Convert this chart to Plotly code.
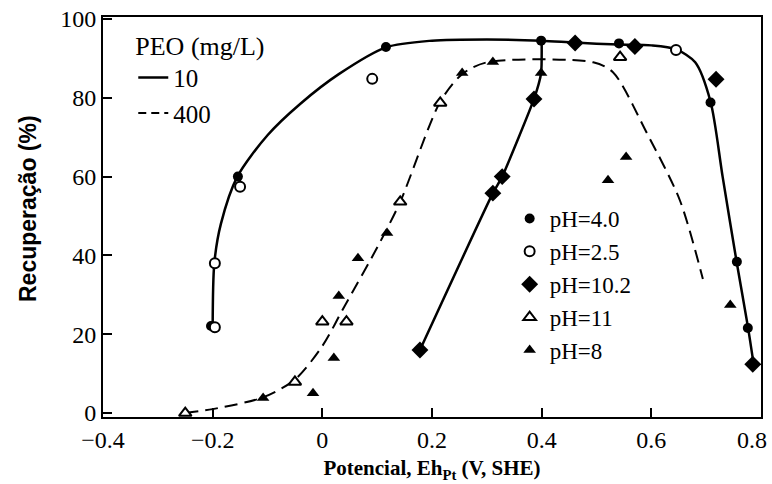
import plotly.graph_objects as go

# ---- data ----
ph40_x = [-0.203, -0.154, 0.116, 0.399, 0.541, 0.708, 0.756, 0.776]
ph40_y = [22.1, 60.0, 92.9, 94.5, 93.8, 78.8, 38.4, 21.6]

ph25_x = [-0.196, -0.196, -0.150, 0.091, 0.645]
ph25_y = [21.8, 38.0, 57.4, 84.8, 92.1]

ph102_x = [0.178, 0.311, 0.328, 0.386, 0.461, 0.570, 0.718, 0.785]
ph102_y = [16.0, 55.8, 60.0, 79.7, 93.9, 93.0, 84.7, 12.4]

ph11_x = [-0.250, -0.050, 0.000, 0.044, 0.142, 0.215, 0.543]
ph11_y = [0.0, 7.9, 23.2, 23.2, 53.6, 78.7, 90.3]

ph8_x = [-0.108, -0.017, 0.021, 0.030, 0.065, 0.118, 0.255, 0.311, 0.399, 0.521, 0.554, 0.744]
ph8_y = [3.8, 5.0, 14.0, 29.7, 39.3, 45.7, 86.3, 89.1, 86.3, 59.1, 65.0, 27.4]

# fitted curves drawn in the reference
curve10a_x = [-0.200, -0.197, -0.185, -0.155, -0.100, -0.040, 0.030, 0.116, 0.200, 0.300,
              0.400, 0.460, 0.540, 0.600, 0.645, 0.680, 0.708, 0.730, 0.756, 0.776, 0.787]
curve10a_y = [22.0, 38.0, 48.0, 60.0, 70.5, 78.5, 86.0, 92.8, 94.5, 94.8,
              94.5, 94.0, 93.5, 93.3, 92.3, 89.0, 79.0, 60.0, 38.0, 22.0, 12.0]

curve10b_x = [0.178, 0.311, 0.328, 0.386, 0.399, 0.400]
curve10b_y = [16.0, 55.8, 60.0, 79.7, 86.3, 94.5]

curve400_x = [-0.250, -0.200, -0.108, -0.050, 0.000, 0.040, 0.100, 0.142, 0.215, 0.255,
              0.300, 0.494, 0.530, 0.592, 0.652, 0.694]
curve400_y = [0.0, 1.0, 4.0, 8.5, 17.0, 27.0, 42.0, 53.6, 79.0, 86.0,
              89.0, 89.0, 86.5, 71.0, 54.0, 34.0]

x_ticks = [-0.4, -0.2, 0, 0.2, 0.4, 0.6, 0.8]
x_tick_labels = ["\u22120.4", "\u22120.2", "0", "0.2", "0.4", "0.6", "0.8"]
y_ticks = [0, 20, 40, 60, 80, 100]

SERIF = "Liberation Serif"
SANS = "Liberation Sans"

# last x label is nudged left so it stays inside the page, as in the reference
x_tick_text = x_tick_labels[:-1] + [x_tick_labels[-1] + "&nbsp;&nbsp;&nbsp;"]

fig = go.Figure()

# curves
fig.add_trace(go.Scatter(x=curve10a_x, y=curve10a_y, mode="lines", line=dict(color="black", width=2.5, shape="spline", smoothing=0.8),
                         showlegend=False, hoverinfo="skip"))
fig.add_trace(go.Scatter(x=curve10b_x, y=curve10b_y, mode="lines", line=dict(color="black", width=2.5, shape="spline", smoothing=0.5),
                         showlegend=False, hoverinfo="skip"))
fig.add_trace(go.Scatter(x=curve400_x, y=curve400_y, mode="lines", line=dict(color="black", width=2, dash="13px,7px", shape="spline", smoothing=0.8),
                         showlegend=False, hoverinfo="skip"))

# legend for line styles
fig.add_trace(go.Scatter(x=[None], y=[None], mode="lines", name="10", line=dict(color="black", width=2.5),
                         legend="legend", legendgroup="a"))
fig.add_trace(go.Scatter(x=[None], y=[None], mode="lines", name="400", line=dict(color="black", width=2, dash="8px,5px"),
                         legend="legend", legendgroup="b"))

# markers
fig.add_trace(go.Scatter(x=ph40_x, y=ph40_y, mode="markers", name="pH=4.0",
                         marker=dict(symbol="circle", size=10, color="black"), legend="legend2", legendgroup="c"))
fig.add_trace(go.Scatter(x=ph25_x, y=ph25_y, mode="markers", name="pH=2.5",
                         marker=dict(symbol="circle", size=10, color="white", line=dict(color="black", width=2)),
                         legend="legend2", legendgroup="d"))
fig.add_trace(go.Scatter(x=ph102_x, y=ph102_y, mode="markers", name="pH=10.2",
                         marker=dict(symbol="diamond", size=13, color="black"), legend="legend2", legendgroup="e"))
fig.add_trace(go.Scatter(x=ph11_x, y=ph11_y, mode="markers", name="pH=11",
                         marker=dict(symbol="triangle-up", size=11, color="white", line=dict(color="black", width=2)),
                         legend="legend2", legendgroup="f"))
fig.add_trace(go.Scatter(x=ph8_x, y=ph8_y, mode="markers", name="pH=8",
                         marker=dict(symbol="triangle-up", size=11, color="black"), legend="legend2", legendgroup="g"))

fig.update_layout(
    width=772, height=484,
    margin=dict(l=103, r=11, t=17, b=67, autoexpand=False),
    paper_bgcolor="white", plot_bgcolor="white",
    font=dict(family=SERIF, color="black", size=24),
    legend=dict(x=0.046, y=0.99, xanchor="left", yanchor="top", bgcolor="rgba(0,0,0,0)",
                title=dict(text="PEO (mg/L)", font=dict(family=SERIF, size=26)),
                font=dict(family=SERIF, size=25), tracegroupgap=0, itemwidth=30),
    legend2=dict(x=0.618, y=0.55, xanchor="left", yanchor="top", bgcolor="rgba(0,0,0,0)",
                 font=dict(family=SERIF, size=23), tracegroupgap=0, itemwidth=30),
    xaxis=dict(range=[-0.4, 0.8], tickvals=x_ticks, ticktext=x_tick_text, ticks="inside", ticklen=9, tickwidth=2, tickcolor="black",
               showline=True, linecolor="black", linewidth=2, mirror=True, showgrid=False, zeroline=False,
               automargin=False, ticklabeloverflow="allow", tickfont=dict(family=SERIF, size=24),
               title=dict(text="<b>Potencial, Eh<sub>Pt</sub> (V, SHE)</b>", font=dict(family=SERIF, size=21), standoff=9)),
    yaxis=dict(range=[-1, 100.5], tickvals=y_ticks, ticks="inside", ticklen=9, tickwidth=2, tickcolor="black",
               showline=True, linecolor="black", linewidth=2, mirror=True, showgrid=False, zeroline=False,
               automargin=False, ticklabeloverflow="allow", tickfont=dict(family=SERIF, size=24)),
    annotations=[dict(text="<b>Recuperação (%)</b>", textangle=-90, xref="paper", yref="paper",
                      x=0, y=0.52, xanchor="center", yanchor="middle", xshift=-75, showarrow=False,
                      font=dict(family=SANS, size=23))],
)

fig.write_html("out.html", config={"displayModeBar": False},
               post_script="document.body.style.margin='0';document.body.style.overflow='hidden';")
